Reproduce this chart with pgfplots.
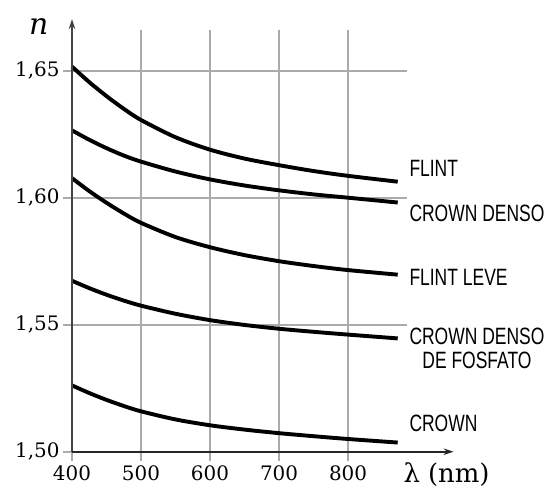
\documentclass[border=0pt]{standalone}
\usepackage{fontspec}
\setmainfont{DejaVu Serif}
\newfontfamily\labfont[FakeStretch=0.74]{Liberation Sans}
\usepackage{pgfplots}
\pgfplotsset{compat=1.18}
\usetikzlibrary{arrows.meta}
\definecolor{gridgray}{HTML}{ABABAB}
\definecolor{axisgray}{HTML}{444444}

\begin{document}
\begin{tikzpicture}[x=1bp,y=1bp]
\useasboundingbox (-72,-36.3) rectangle (472,451.7);
\begin{axis}[
    at={(0,0)}, anchor=south west,
    scale only axis, width=325.7bp, height=412.75bp,
    xmin=400, xmax=872, ymin=1.5, ymax=1.6625,
    axis line style={draw=none},
    xtick={400,500,600,700,800},
    ytick={1.50,1.55,1.60,1.65},
    grid=major,
    grid style={gridgray, line width=1.9bp},
    tick align=outside, major tick length=9bp,
    tick style={gridgray, line width=1.9bp},
    /pgf/number format/assume math mode=true,
    tick label style={font=\fontsize{20}{20}\selectfont},
    xticklabel style={/pgf/number format/1000 sep={}, yshift=-1bp},
    yticklabel style={/pgf/number format/.cd, fixed, fixed zerofill, precision=2, use comma},
    clip=false,
    curve/.style={black, line width=3.9bp, smooth, tension=0.5, no markers},
  ]
  % FLINT
  \addplot[curve] coordinates {
    (400,1.6516) (425,1.6455) (450,1.6400) (475,1.6350) (500,1.6306)
    (550,1.6238) (600,1.6189) (650,1.6154) (700,1.6128) (750,1.6105)
    (800,1.6086) (872,1.6063)};
  % CROWN DENSO
  \addplot[curve] coordinates {
    (400,1.6265) (425,1.6228) (450,1.6195) (475,1.6166) (500,1.6142)
    (550,1.6103) (600,1.6072) (650,1.6048) (700,1.6029) (750,1.6013)
    (800,1.6000) (872,1.5981)};
  % FLINT LEVE
  \addplot[curve] coordinates {
    (400,1.6077) (425,1.6026) (450,1.5980) (475,1.5938) (500,1.5901)
    (550,1.5845) (600,1.5805) (650,1.5774) (700,1.5750) (750,1.5731)
    (800,1.5715) (872,1.5697)};
  % CROWN DENSO DE FOSFATO
  \addplot[curve] coordinates {
    (400,1.5673) (425,1.5644) (450,1.5618) (475,1.5595) (500,1.5575)
    (550,1.5543) (600,1.5518) (650,1.5499) (700,1.5484) (750,1.5472)
    (800,1.5461) (872,1.5446)};
  % CROWN
  \addplot[curve] coordinates {
    (400,1.5261) (425,1.5231) (450,1.5204) (475,1.5180) (500,1.5159)
    (550,1.5127) (600,1.5104) (650,1.5087) (700,1.5073) (750,1.5061)
    (800,1.5050) (872,1.5036)};

  \draw[axisgray, line width=1.8bp, -{Stealth[length=10bp,width=6.5bp]}]
    (axis cs:400,1.5) -- (axis cs:400,1.6703);
  \draw[black!85, line width=1.8bp, -{Stealth[length=10bp,width=6.5bp]}]
    (axis cs:400,1.5) -- (axis cs:953,1.5);

  \begin{scope}[every node/.style={anchor=west, inner sep=0pt,
      font=\labfont\fontsize{23.7}{24}\selectfont}]
    \node at (axis cs:888.8,1.6117) {FLINT};
    \node at (axis cs:888.8,1.5939) {CROWN DENSO};
    \node at (axis cs:888.8,1.5688) {FLINT LEVE};
    \node[align=center] at (axis cs:888.8,1.5407) {CROWN DENSO\\[-0.2bp]DE FOSFATO};
    \node at (axis cs:888.8,1.5112) {CROWN};
  \end{scope}
  \node[font=\itshape\fontsize{30}{30}\selectfont] at (axis cs:351.7,1.6672) {n};
  \node[font=\fontsize{26}{26}\selectfont] at (axis cs:942.8,1.4910) {λ (nm)};
\end{axis}
\end{tikzpicture}
\end{document}
